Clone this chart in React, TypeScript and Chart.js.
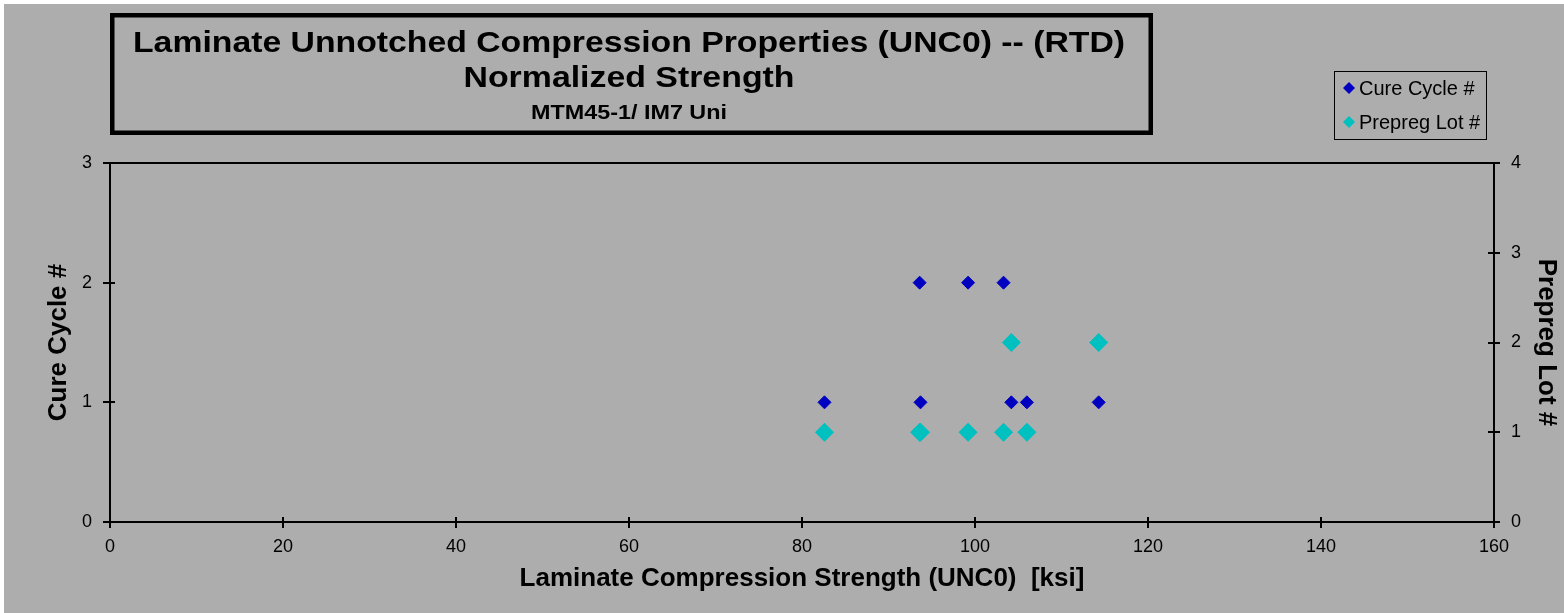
import React, { useEffect, useRef } from "react";
import { Chart, registerables } from "chart.js";

Chart.register(...registerables);

// ---------- data ----------
const titleLines = [
  "Laminate Unnotched Compression Properties (UNC0) -- (RTD)",
  "Normalized Strength",
  "MTM45-1/ IM7 Uni",
];
const xAxisTitle = "Laminate Compression Strength (UNC0)  [ksi]";
const yAxisTitle = "Cure Cycle #";
const y2AxisTitle = "Prepreg Lot #";

const seriesLabels = ["Cure Cycle #", "Prepreg Lot #"];
const seriesColors = ["#0000C0", "#00C0C0"];

const cureCycleX = [93.6, 99.2, 103.3, 82.6, 93.7, 104.2, 106.0, 114.3];
const cureCycleY = [2, 2, 2, 1, 1, 1, 1, 1];

const prepregLotX = [104.2, 114.3, 82.6, 93.6, 93.7, 99.2, 103.3, 106.0];
const prepregLotY = [2, 2, 1, 1, 1, 1, 1, 1];

const xMin = 0, xMax = 160, xStep = 20;
const yMin = 0, yMax = 3, yStep = 1;
const y2Min = 0, y2Max = 4, y2Step = 1;

const FONT = "Arial, 'Liberation Sans', Helvetica, sans-serif";
const BG = "#adadad";

function diamond(ctx: CanvasRenderingContext2D, x: number, y: number, r: number, color: string) {
  ctx.beginPath();
  ctx.moveTo(x, y - r);
  ctx.lineTo(x + r, y);
  ctx.lineTo(x, y + r);
  ctx.lineTo(x - r, y);
  ctx.closePath();
  ctx.fillStyle = color;
  ctx.fill();
}

const backgroundPlugin = {
  id: "bgFill",
  beforeDraw(chart: any) {
    const ctx = chart.ctx as CanvasRenderingContext2D;
    ctx.save();
    ctx.fillStyle = "#ffffff";
    ctx.fillRect(0, 0, chart.width, chart.height);
    ctx.fillStyle = BG;
    ctx.fillRect(4, 4, chart.width - 4, chart.height - 4);
    ctx.restore();
  },
};

const framePlugin = {
  id: "frameAndTicks",
  afterDraw(chart: any) {
    const ctx = chart.ctx as CanvasRenderingContext2D;
    const a = chart.chartArea;
    ctx.save();
    ctx.strokeStyle = "#000";
    ctx.lineWidth = 2;
    ctx.beginPath();
    ctx.moveTo(a.left, a.top);
    ctx.lineTo(a.right, a.top);
    ctx.stroke();
    const xs = chart.scales.x;
    xs.ticks.forEach((t: any) => {
      const p = Math.round(xs.getPixelForValue(t.value));
      ctx.beginPath();
      ctx.moveTo(p, a.bottom);
      ctx.lineTo(p, a.bottom - 5);
      ctx.stroke();
    });
    const ys = chart.scales.y;
    ys.ticks.forEach((t: any) => {
      const p = Math.round(ys.getPixelForValue(t.value));
      ctx.beginPath();
      ctx.moveTo(a.left, p);
      ctx.lineTo(a.left + 5, p);
      ctx.stroke();
    });
    const y2 = chart.scales.y2;
    y2.ticks.forEach((t: any) => {
      const p = Math.round(y2.getPixelForValue(t.value));
      ctx.beginPath();
      ctx.moveTo(a.right, p);
      ctx.lineTo(a.right - 6, p);
      ctx.stroke();
    });
    ctx.restore();
  },
};

const titlePlugin = {
  id: "boxedTitle",
  afterDraw(chart: any) {
    const ctx = chart.ctx as CanvasRenderingContext2D;
    ctx.save();
    ctx.strokeStyle = "#000";
    ctx.lineWidth = 4.5;
    ctx.strokeRect(112.25, 15.25, 1038.5, 117.5);
    const specs = [
      { font: `bold 30px ${FONT}`, base: 52, width: 992 },
      { font: `bold 30px ${FONT}`, base: 87, width: 331 },
      { font: `bold 20px ${FONT}`, base: 119, width: 196 },
    ];
    ctx.fillStyle = "#000";
    ctx.textAlign = "center";
    ctx.textBaseline = "alphabetic";
    titleLines.forEach((line, i) => {
      const s = specs[i];
      ctx.font = s.font;
      const w = ctx.measureText(line).width;
      const sx = s.width / w;
      ctx.save();
      ctx.translate(629, s.base);
      ctx.scale(sx, 1);
      ctx.fillText(line, 0, 0);
      ctx.restore();
    });
    ctx.restore();
  },
};

const legendPlugin = {
  id: "boxLegend",
  afterDraw(chart: any) {
    const ctx = chart.ctx as CanvasRenderingContext2D;
    ctx.save();
    ctx.fillStyle = BG;
    ctx.fillRect(1334, 71, 152, 68);
    ctx.strokeStyle = "#000";
    ctx.lineWidth = 1;
    ctx.strokeRect(1334.5, 71.5, 152, 68);
    const rows = [88, 122];
    chart.data.datasets.forEach((ds: any, i: number) => {
      const y = rows[i];
      diamond(ctx, 1349, y, 6, ds.backgroundColor);
      ctx.fillStyle = "#000";
      ctx.font = `20px ${FONT}`;
      ctx.textAlign = "left";
      ctx.textBaseline = "middle";
      ctx.fillText(ds.label, 1359, y + 1);
    });
    ctx.restore();
  },
};

export default function App() {
  const ref = useRef<HTMLCanvasElement>(null);

  useEffect(() => {
    if (!ref.current) return;
    Chart.defaults.font.family = FONT;
    Chart.defaults.color = "#000";
    const chart = new Chart(ref.current, {
      type: "scatter",
      data: {
        datasets: [
          {
            label: seriesLabels[0],
            data: cureCycleX.map((x, i) => ({ x, y: cureCycleY[i] })),
            yAxisID: "y",
            backgroundColor: seriesColors[0],
            borderColor: seriesColors[0],
            borderWidth: 1,
            pointStyle: "rectRot",
            pointRadius: 6.5,
            showLine: false,
          },
          {
            label: seriesLabels[1],
            data: prepregLotX.map((x, i) => ({ x, y: prepregLotY[i] })),
            yAxisID: "y2",
            backgroundColor: seriesColors[1],
            borderColor: seriesColors[1],
            borderWidth: 1,
            pointStyle: "rectRot",
            pointRadius: 9,
            showLine: false,
          },
        ],
      },
      options: {
        responsive: false,
        devicePixelRatio: 1,
        animation: false,
        layout: { padding: { top: 163, left: 0, right: 0, bottom: 0 } },
        plugins: {
          legend: { display: false },
          tooltip: { enabled: false },
          title: { display: false },
        },
        scales: {
          x: {
            type: "linear",
            position: "bottom",
            min: xMin,
            max: xMax,
            ticks: { stepSize: xStep, font: { size: 18 }, color: "#000", padding: 8 },
            grid: { drawOnChartArea: false, drawTicks: true, tickLength: 6, color: "#000", lineWidth: 2 },
            border: { display: true, color: "#000", width: 2 },
            title: {
              display: true,
              text: xAxisTitle,
              font: { size: 26, weight: "bold" },
              color: "#000",
              padding: { top: 0, bottom: 19 },
            },
            afterFit(scale: any) {
              scale.height = 91;
            },
          },
          y: {
            type: "linear",
            position: "left",
            min: yMin,
            max: yMax,
            ticks: { stepSize: yStep, font: { size: 18 }, color: "#000", padding: 11 },
            grid: { drawOnChartArea: false, drawTicks: true, tickLength: 7, color: "#000", lineWidth: 2 },
            border: { display: true, color: "#000", width: 2 },
            title: {
              display: true,
              text: yAxisTitle,
              font: { size: 26, weight: "bold" },
              color: "#000",
              padding: { top: 43, bottom: 0 },
            },
            afterFit(scale: any) {
              scale.width = 110;
            },
          },
          y2: {
            type: "linear",
            position: "right",
            min: y2Min,
            max: y2Max,
            ticks: { stepSize: y2Step, font: { size: 18 }, color: "#000", padding: 11 },
            grid: { drawOnChartArea: false, drawTicks: true, tickLength: 6, color: "#000", lineWidth: 2 },
            border: { display: true, color: "#000", width: 2 },
            title: {
              display: true,
              text: y2AxisTitle,
              font: { size: 26, weight: "bold" },
              color: "#000",
              padding: { top: 2, bottom: 0 },
            },
            afterFit(scale: any) {
              scale.width = 70;
            },
          },
        },
      },
      plugins: [backgroundPlugin, framePlugin, titlePlugin, legendPlugin],
    } as any);
    return () => chart.destroy();
  }, []);

  return (
    <div style={{ position: "fixed", left: 0, top: 0, width: 1564, height: 613 }}>
      <canvas ref={ref} width={1564} height={613} style={{ display: "block", width: 1564, height: 613 }} />
    </div>
  );
}
